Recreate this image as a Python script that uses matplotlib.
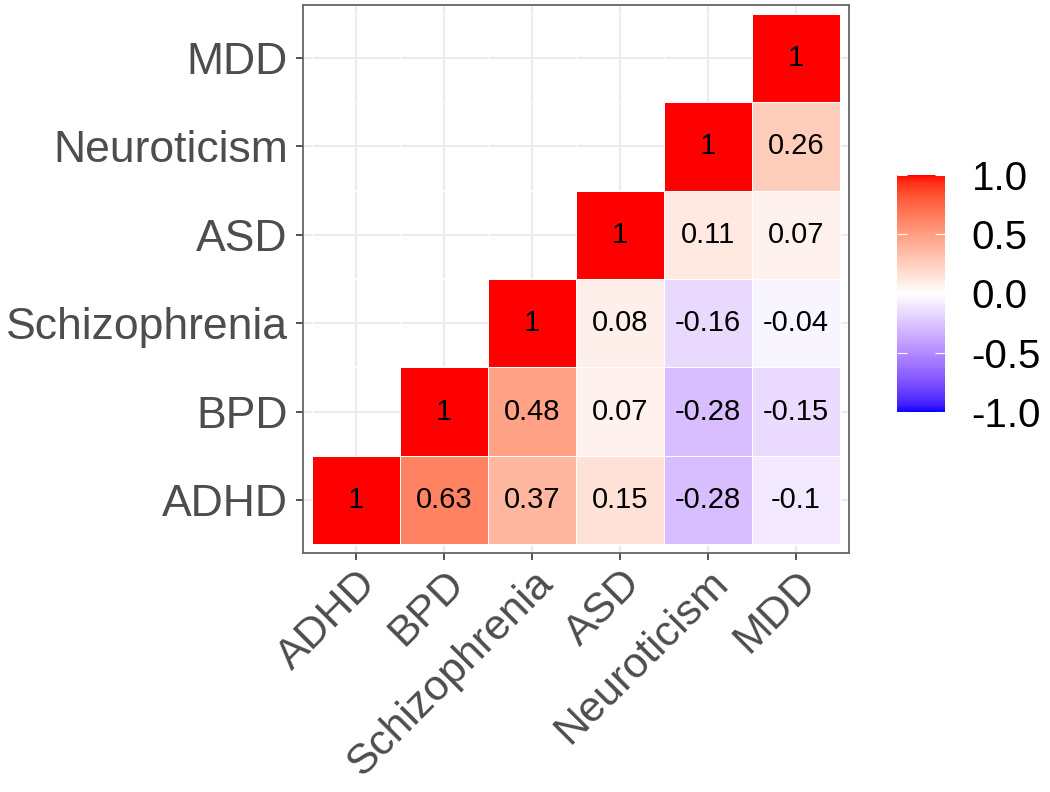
import numpy as np
import matplotlib
matplotlib.use("Agg")
import matplotlib.pyplot as plt
from matplotlib.colors import ListedColormap

plt.rcParams['font.family'] = ['Liberation Sans', 'DejaVu Sans']

traits = ["ADHD", "BPD", "Schizophrenia", "ASD", "Neuroticism", "MDD"]

# rows from bottom (ADHD) to top (MDD); None = lower triangle, not drawn
row_adhd = [1, 0.63, 0.37, 0.15, -0.28, -0.1]
row_bpd = [None, 1, 0.48, 0.07, -0.28, -0.15]
row_scz = [None, None, 1, 0.08, -0.16, -0.04]
row_asd = [None, None, None, 1, 0.11, 0.07]
row_neu = [None, None, None, None, 1, 0.26]
row_mdd = [None, None, None, None, None, 1]
corr = [row_adhd, row_bpd, row_scz, row_asd, row_neu, row_mdd]

cbar_ticks = [-1.0, -0.5, 0.0, 0.5, 1.0]


# blue - white - red, interpolated in Lab like ggplot's gradient2
def to_lab(rgb):
    rgb = np.asarray(rgb, float)
    lin = np.where(rgb <= 0.04045, rgb / 12.92, ((rgb + 0.055) / 1.055) ** 2.4)
    m = np.array([[0.4124, 0.3576, 0.1805],
                  [0.2126, 0.7152, 0.0722],
                  [0.0193, 0.1192, 0.9505]])
    xyz = m @ lin / np.array([0.95047, 1.0, 1.08883])
    f = np.where(xyz > 0.008856, np.cbrt(xyz), 7.787 * xyz + 16 / 116)
    return np.array([116 * f[1] - 16, 500 * (f[0] - f[1]), 200 * (f[1] - f[2])])


def from_lab(lab):
    fy = (lab[0] + 16) / 116
    fx = fy + lab[1] / 500
    fz = fy - lab[2] / 200
    f = np.array([fx, fy, fz])
    xyz = np.where(f ** 3 > 0.008856, f ** 3, (f - 16 / 116) / 7.787)
    xyz = xyz * np.array([0.95047, 1.0, 1.08883])
    m = np.array([[3.2406, -1.5372, -0.4986],
                  [-0.9689, 1.8758, 0.0415],
                  [0.0557, -0.2040, 1.0570]])
    lin = m @ xyz
    rgb = np.where(lin <= 0.0031308, 12.92 * lin, 1.055 * np.clip(lin, 0, None) ** (1 / 2.4) - 0.055)
    return np.clip(rgb, 0, 1)


blue, white, red = to_lab([0, 0, 1]), to_lab([1, 1, 1]), to_lab([1, 0, 0])
cols = []
for t in np.linspace(-1, 1, 256):
    if t < 0:
        cols.append(from_lab(white + (blue - white) * (-t)))
    else:
        cols.append(from_lab(white + (red - white) * t))
cmap = ListedColormap(cols)

z = np.ma.masked_invalid(np.array([[np.nan if v is None else v for v in r] for r in corr], float))

fig = plt.figure(figsize=(10.5, 7.92), dpi=100)
ax = fig.add_axes([303 / 1050, 1 - 553 / 792, 546 / 1050, 548 / 792])

edges = np.arange(0.5, len(traits) + 1)
mesh = ax.pcolormesh(edges, edges, z, cmap=cmap, vmin=-1, vmax=1,
                     edgecolors='white', linewidth=0.5)

for i, r in enumerate(corr):
    for j, v in enumerate(r):
        if v is not None:
            ax.text(j + 1, i + 1, f"{v:g}", ha='center', va='center',
                    fontsize=21, color='black')

ax.set_xlim(0.4, 6.6)
ax.set_ylim(0.4, 6.6)
ax.set_xticks(range(1, 7))
ax.set_yticks(range(1, 7))
ax.set_xticklabels(traits, rotation=45, ha='right', va='top', rotation_mode='anchor')
ax.set_yticklabels(traits)
ax.tick_params(labelsize=32, labelcolor='#4D4D4D', color='#333333',
               length=5, width=1.2, pad=6)
ax.tick_params(axis='x', labelsize=31, pad=2)
ax.set_axisbelow(True)
ax.grid(True, color='#EBEBEB', linewidth=1.4)
for s in ax.spines.values():
    s.set_color('#666666')
    s.set_linewidth(1.3)

cax = fig.add_axes([897 / 1050, 1 - 412 / 792, 48 / 1050, 237 / 792])
cb = fig.colorbar(mesh, cax=cax, ticks=cbar_ticks)
cb.outline.set_visible(False)
cb.ax.set_yticklabels([f"{t:.1f}" for t in cbar_ticks])
cax.tick_params(axis='y', direction='in', left=True, right=True,
                labelleft=False, labelright=True, length=7, width=0.8,
                color='white', labelcolor='black', labelsize=29, pad=19)

fig.savefig("out.png", dpi=100)
